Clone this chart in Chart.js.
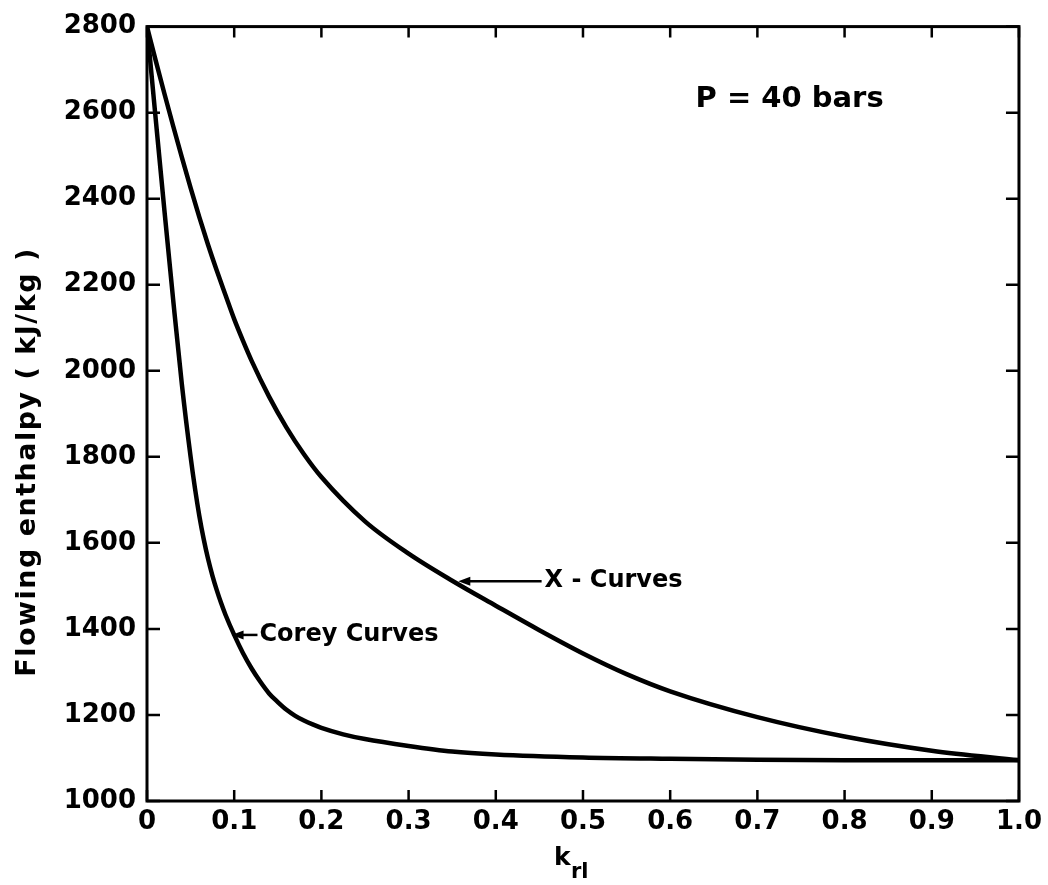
<!DOCTYPE html>
<html>
<head>
<meta charset="utf-8">
<script src="https://cdn.jsdelivr.net/npm/chart.js@4/dist/chart.umd.min.js"></script>
<style>
  html, body { margin: 0; padding: 0; background: #fff; }
  #wrap { width: 1048px; height: 885px; }
</style>
</head>
<body>
<div id="wrap"><canvas id="enthalpyChart"></canvas></div>
<script>
// --- данные ---

// X-curves: k_rl и энтальпия
const xCurveK = [0, 0.01, 0.02, 0.03, 0.04, 0.05, 0.06, 0.07, 0.08, 0.09, 0.1, 0.11, 0.12, 0.14, 0.16, 0.18, 0.2, 0.25, 0.3, 0.35, 0.4, 0.45, 0.5, 0.55, 0.6, 0.7, 0.8, 0.9, 1.0];
const xCurveH = [2800, 2721, 2644, 2569, 2496, 2425, 2357, 2293, 2233, 2176, 2120, 2070, 2023, 1940, 1868, 1806, 1753, 1650, 1575, 1512, 1454, 1397, 1343, 1295, 1255, 1195, 1150, 1117, 1095];

// Corey curves
const coreyK = [0, 0.01, 0.02, 0.03, 0.04, 0.05, 0.055, 0.06, 0.065, 0.07, 0.075, 0.08, 0.085, 0.09, 0.1, 0.11, 0.12, 0.13, 0.14, 0.15, 0.16, 0.17, 0.18, 0.19, 0.2, 0.225, 0.25, 0.3, 0.35, 0.4, 0.5, 0.6, 0.7, 0.8, 1.0];
const coreyH = [2800, 2585, 2372, 2165, 1968, 1800, 1727, 1663, 1609, 1563, 1524, 1490, 1460, 1433, 1386, 1344, 1308, 1277, 1250, 1230, 1212, 1198, 1187, 1178, 1170, 1155, 1144, 1128, 1115, 1108, 1101, 1098, 1096, 1095, 1095];

// подписи делений
const xTickLabels = ['0', '0.1', '0.2', '0.3', '0.4', '0.5', '0.6', '0.7', '0.8', '0.9', '1.0'];
const yTickLabels = ['1000', '1200', '1400', '1600', '1800', '2000', '2200', '2400', '2600', '2800'];

// подписи на поле графика (в единицах данных)
const notePressure = { text: 'P = 40 bars', k: 0.737, h: 2631 };
const noteX = { text: 'X - Curves', k: 0.456, h: 1511, tipK: 0.357 };
const noteCorey = { text: 'Corey Curves', k: 0.129, h: 1386, tipK: 0.097 };

const FONT = '"DejaVu Sans", sans-serif';

function toPoints(ks, hs) {
    return ks.map((k, i) => ({ x: k, y: hs[i] }));
}

function arrowLeft(ctx, x1, x2, y) {
    // линия от x2 к x1, острие слева
    ctx.beginPath();
    ctx.moveTo(x1 + 8, y);
    ctx.lineTo(x2, y);
    ctx.lineWidth = 2.5;
    ctx.stroke();
    ctx.beginPath();
    ctx.moveTo(x1, y);
    ctx.lineTo(x1 + 12, y - 4.5);
    ctx.lineTo(x1 + 12, y + 4.5);
    ctx.closePath();
    ctx.fill();
}

// рамка, внутренние засечки и подписи
const decorPlugin = {
    id: 'decor',
    afterDraw(chart) {
        const ctx = chart.ctx;
        const a = chart.chartArea;
        const xs = chart.scales.x;
        const ys = chart.scales.y;
        ctx.save();
        ctx.strokeStyle = '#000';
        ctx.fillStyle = '#000';

        // рамка
        ctx.lineWidth = 3;
        ctx.strokeRect(a.left, a.top, a.right - a.left, a.bottom - a.top);

        // засечки внутрь
        ctx.lineWidth = 2.5;
        ctx.beginPath();
        xs.ticks.forEach(t => {
            const px = xs.getPixelForValue(t.value);
            ctx.moveTo(px, a.bottom); ctx.lineTo(px, a.bottom - 11);
            ctx.moveTo(px, a.top); ctx.lineTo(px, a.top + 11);
        });
        ys.ticks.forEach(t => {
            const py = ys.getPixelForValue(t.value);
            ctx.moveTo(a.left, py); ctx.lineTo(a.left + 13, py);
            ctx.moveTo(a.right, py); ctx.lineTo(a.right - 13, py);
        });
        ctx.stroke();

        // подпись оси Y
        ctx.save();
        ctx.translate(35, 462);
        ctx.rotate(-Math.PI / 2);
        ctx.font = 'bold 27px ' + FONT;
        ctx.letterSpacing = '1.5px';
        ctx.textAlign = 'center';
        ctx.textBaseline = 'alphabetic';
        ctx.fillText('Flowing enthalpy ( kJ/kg )', 0, 0);
        ctx.restore();

        // подпись оси X: k с индексом rl
        ctx.textBaseline = 'alphabetic';
        ctx.textAlign = 'left';
        ctx.font = 'bold 25px ' + FONT;
        ctx.fillText('k', 554, 865);
        ctx.font = 'bold 21px ' + FONT;
        ctx.fillText('rl', 571, 878);

        // P = 40 bars
        ctx.font = 'bold 29px ' + FONT;
        ctx.textAlign = 'center';
        ctx.textBaseline = 'middle';
        ctx.fillText(notePressure.text, xs.getPixelForValue(notePressure.k), ys.getPixelForValue(notePressure.h));

        // X - Curves
        ctx.font = 'bold 24px ' + FONT;
        ctx.textAlign = 'left';
        const xx = xs.getPixelForValue(noteX.k);
        const xy = ys.getPixelForValue(noteX.h);
        ctx.fillText(noteX.text, xx, xy);
        arrowLeft(ctx, xs.getPixelForValue(noteX.tipK), xx - 3, xy);

        // Corey Curves
        const cx = xs.getPixelForValue(noteCorey.k);
        const cy = ys.getPixelForValue(noteCorey.h);
        ctx.fillText(noteCorey.text, cx, cy);
        arrowLeft(ctx, xs.getPixelForValue(noteCorey.tipK), cx - 2, cy);

        ctx.restore();
    }
};

const tickFont = { family: FONT, size: 26, weight: 'bold' };

new Chart(document.getElementById('enthalpyChart'), {
    type: 'line',
    data: {
        datasets: [
            {
                label: 'X-Curves',
                data: toPoints(xCurveK, xCurveH),
                borderColor: '#000',
                borderWidth: 4.5,
                pointRadius: 0,
                cubicInterpolationMode: 'monotone',
                fill: false
            },
            {
                label: 'Corey Curves',
                data: toPoints(coreyK, coreyH),
                borderColor: '#000',
                borderWidth: 4.5,
                pointRadius: 0,
                cubicInterpolationMode: 'monotone',
                fill: false
            }
        ]
    },
    options: {
        responsive: true,
        maintainAspectRatio: false,
        animation: false,
        layout: { padding: { top: 22, right: 28, left: 0, bottom: 0 } },
        plugins: {
            legend: { display: false },
            tooltip: { enabled: false }
        },
        scales: {
            x: {
                type: 'linear',
                min: 0,
                max: 1,
                grid: { display: false, drawTicks: false },
                border: { display: false },
                ticks: {
                    stepSize: 0.1,
                    color: '#000',
                    font: tickFont,
                    padding: 6,
                    maxRotation: 0,
                    autoSkip: false,
                    callback: (v, i) => xTickLabels[i]
                },
                afterFit: s => { s.height = 84; }
            },
            y: {
                min: 1000,
                max: 2800,
                grid: { display: false, drawTicks: false },
                border: { display: false },
                ticks: {
                    stepSize: 200,
                    color: '#000',
                    font: tickFont,
                    padding: 11,
                    autoSkip: false,
                    callback: (v, i) => yTickLabels[i]
                },
                afterFit: s => { s.width = 147; }
            }
        }
    },
    plugins: [decorPlugin]
});
</script>
</body>
</html>
